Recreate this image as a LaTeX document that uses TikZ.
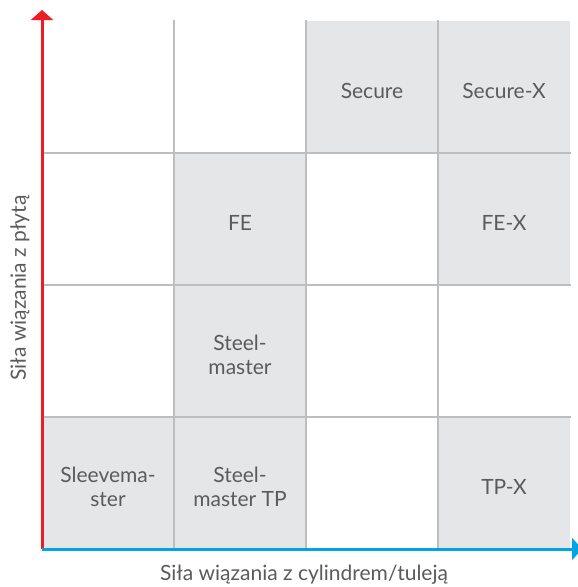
\documentclass[tikz,border=0pt]{standalone}
\usepackage{fontspec}
\setmainfont{Lato}
\usetikzlibrary{arrows.meta}
\definecolor{cellgray}{HTML}{E5E6E8}
\definecolor{gridgray}{HTML}{BDBEC0}
\definecolor{textgray}{HTML}{5A5B5D}
\definecolor{axisred}{HTML}{EE1C25}
\definecolor{axisblue}{HTML}{00A5E3}
\tikzset{
  cell/.style={fill=cellgray, minimum width=132pt, minimum height=132pt, inner sep=0pt},
  celltext/.style={text=textgray, align=center, yshift=-4pt, font=\fontsize{21}{23.5}\selectfont},
  gridline/.style={gridgray, line width=1.5pt},
  axislabel/.style={text=textgray, font=\fontsize{21}{24}\selectfont}
}

\begin{document}
\begin{tikzpicture}[x=1pt, y=-1pt]
\useasboundingbox (0,0) rectangle (578,587);
\node[cell] (secure) at (372,86.5) {};
\node[cell] (securex) at (504,86.5) {};
\node[cell] (fe) at (240,219) {};
\node[cell] (fex) at (504,219) {};
\node[cell] (steel) at (240,351) {};
\node[cell] (sleeve) at (108,483) {};
\node[cell] (steeltp) at (240,483) {};
\node[cell] (tpx) at (504,483) {};
\node[celltext] at (secure) {Secure};
\node[celltext] at (securex) {Secure-X};
\node[celltext] at (fe) {FE};
\node[celltext] at (fex) {FE-X};
\node[celltext] at (steel) {Steel-\\master};
\node[celltext] at (sleeve) {Sleevema-\\ster};
\node[celltext] at (steeltp) {Steel-\\master TP};
\node[celltext] at (tpx) {TP-X};
\draw[gridline] (174,20) -- (174,549);
\draw[gridline] (306,20) -- (306,549);
\draw[gridline] (438,20) -- (438,549);
\draw[gridline] (42,153) -- (571,153);
\draw[gridline] (42,285) -- (571,285);
\draw[gridline] (42,417) -- (571,417);
\coordinate (origin) at (42,549);
\coordinate (ytip) at (42,10);
\coordinate (xtip) at (582,549);
\draw[axisred, line width=3pt, -{Triangle[length=10pt,width=22pt]}] (origin) -- (ytip);
\draw[axisblue, line width=3pt, -{Triangle[length=10pt,width=22pt]}] (origin) -- (xtip);
\node[axislabel, rotate=90] (ylabel) at (20,288) {Siła wiązania z płytą};
\node[axislabel] (xlabel) at (304,575) {Siła wiązania z cylindrem/tuleją};
\end{tikzpicture}
\end{document}
